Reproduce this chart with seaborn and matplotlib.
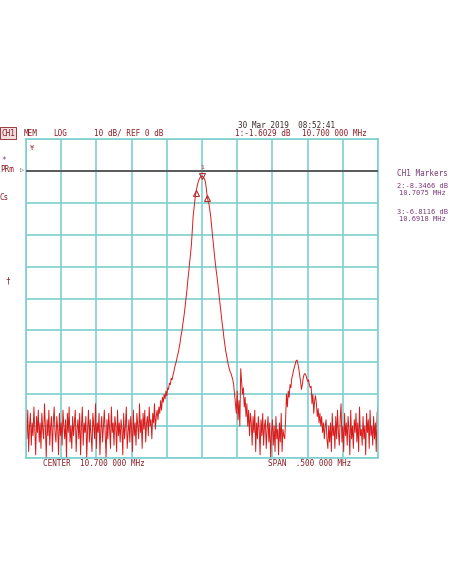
import numpy as np
import pandas as pd
import matplotlib
matplotlib.use("Agg")
import matplotlib.pyplot as plt
import seaborn as sns

# --- sweep settings --- #
center_mhz = 10.7
span_mhz = 0.5
n_points = 401

# --- trace, dB (split into pieces of the sweep) --- #
noise_left = [
    -78, -84, -75, -88, -80, -76, -86, -79, -83, -74,
    -81, -89, -77, -82, -75, -85, -79, -87, -76, -81,
    -84, -73, -80, -90, -78, -83, -75, -86, -80, -77,
    -88, -79, -74, -82, -85, -77, -81, -89, -76, -83,
    -79, -86, -75, -80, -84, -78, -90, -76, -82, -74,
    -85, -80, -87, -77, -83, -79, -75, -88, -81, -78,
    -84, -76, -89, -80, -74, -86, -79, -82, -77, -90,
    -81, -75, -85, -78, -83, -88, -76, -80, -84, -73,
    -87, -79, -82, -76, -89, -81, -77, -85, -80, -75,
    -83, -90, -78, -84, -76, -81, -87, -74, -82, -79,
    -86, -77, -80, -88, -75, -83, -79, -85, -78, -81,
    -89, -76, -84, -80, -74, -87, -82, -78, -85, -77,
    -81, -88, -75, -83, -79, -86, -76, -80, -84, -73,
    -82, -78, -87, -76, -81, -75, -85, -79, -77, -83,
    -74, -80, -78, -84, -76, -79, -73, -81, -77, -75,
    -78, -74, -76, -72, -75, -71,
]
main_lobe = [
    -72.5, -70, -71.5, -69, -70.5, -68, -68.5, -66.5, -67, -65,
    -65.5, -64, -63, -61.5, -60.5, -59.5, -58, -57, -55.5, -54,
    -52, -50.5, -48.5, -46.5, -44.5, -42, -39.5, -37, -34, -31.5,
    -28.5, -26, -23, -18.5, -14, -11.5, -9, -7, -5.5, -4.2,
    -3.2, -2.5, -2.0, -1.7, -1.6, -1.8, -2.1, -2.7, -3.6, -5.8,
    -8.3, -9.4, -10.5, -12.5, -14.5, -17.5, -20.5, -23, -26, -28.5,
    -31, -33, -35.5, -38, -40.5, -43, -45.5, -48, -50, -52.5,
    -54.5, -56.5, -58, -59.5, -61, -62, -63, -63.5, -64.5, -65.5,
    -67, -70,
]
noise_mid = [
    -73, -76, -69, -78, -72, -80, -62, -66, -70, -68,
    -74, -71, -77, -73, -80, -75, -83, -76, -79, -86,
    -77, -82, -75, -88, -79, -84, -77, -81, -89, -78,
    -83, -76, -86, -80, -78, -87, -81, -77, -85, -79,
    -90, -82, -78, -86, -80, -88, -77, -84, -81, -89,
    -79, -85, -76, -88, -81, -83,
]
spur = [
    -84, -78, -70, -74, -69, -71, -67, -68, -65, -64,
    -62.5, -61.5, -60.5, -59.5, -59.3, -60.5, -62, -64, -66, -68.5,
    -67, -65, -63.8, -63.5, -64, -65, -66, -65.5, -67, -68,
    -67.5, -73, -70, -76, -72, -70.5, -73, -77, -74.5, -79,
    -76, -80, -77, -82, -79, -84, -80, -78, -84, -87,
    -80, -85,
]
noise_right = [
    -79, -88, -76, -83, -80, -87, -77, -84, -75, -82,
    -86, -78, -73, -85, -80, -88, -76, -83, -79, -86,
    -77, -81, -89, -75, -84, -80, -87, -78, -82, -76,
    -85, -79, -88, -74, -83, -81, -86, -77, -84, -80,
    -89, -76, -82, -78, -87, -75, -83, -80, -86, -77,
    -84, -79, -88, -76, -74,
]

# markers 1..3
marker_names = ["1", "2", "3"]
marker_freq = [10.7, 10.7075, 10.6918]
marker_db = [-1.6029, -8.3466, -6.8116]

level_db = noise_left + main_lobe + noise_mid + spur + noise_right
freq = np.linspace(center_mhz - span_mhz / 2, center_mhz + span_mhz / 2, n_points)
df = pd.DataFrame({"freq": freq, "level": level_db})

sns.set_theme(style="white")
plt.rcParams['font.family'] = ['DejaVu Sans Mono', 'DejaVu Sans']

W, H = 452, 584
fig = plt.figure(figsize=(W / 100, H / 100), dpi=100)
ax = fig.add_axes([26 / W, 1 - 458 / H, (378 - 26) / W, (458 - 139) / H])

grid_col = "#7fd0d0"
lab_col = "#8a1c24"
mk_col = "#7a3a78"

sns.lineplot(data=df, x="freq", y="level", ax=ax, color="#d81c1c",
             linewidth=0.7, estimator=None, sort=False)

ax.set_xlim(freq[0], freq[-1])
ax.set_ylim(-90, 10)
ax.set_xticks(np.linspace(freq[0], freq[-1], 11))
ax.set_yticks(np.arange(-90, 11, 10))
ax.tick_params(length=0, labelbottom=False, labelleft=False)
ax.grid(True, color=grid_col, linewidth=1.2)
for s in ax.spines.values():
    s.set_color(grid_col)
    s.set_linewidth(1.2)
ax.set_xlabel("")
ax.set_ylabel("")

# reference line at REF 0 dB
ax.axhline(0, color="#5a5a5a", linewidth=1.4, zorder=3)

# markers
ax.plot(marker_freq[1:], marker_db[1:], linestyle="none", marker="^",
        markersize=4.5, markerfacecolor="none", markeredgecolor="#b03030",
        markeredgewidth=0.8)
ax.plot(marker_freq[:1], marker_db[:1], linestyle="none", marker="v",
        markersize=4, markerfacecolor="none", markeredgecolor="#b03030",
        markeredgewidth=0.8)
ax.annotate(marker_names[0], (marker_freq[0], marker_db[0]), xytext=(0, 5),
            textcoords="offset points", ha="center", fontsize=4.5, color="#b03030")


def ftext(x, y, s, **kw):
    kw.setdefault("fontsize", 5.5)
    kw.setdefault("color", lab_col)
    kw.setdefault("va", "center")
    fig.text(x / W, 1 - y / H, s, **kw)


# header
ftext(238, 125, "30 Mar 2019  08:52:41", color="#3a2a2a")
ftext(1, 133, "CH1", bbox=dict(boxstyle="square,pad=0.15", fc="#f2dede",
                                ec=lab_col, lw=0.6))
ftext(24, 133, "MEM")
ftext(53, 133, "LOG")
ftext(94, 133, "10 dB/ REF 0 dB")
ftext(235, 133, "1:-1.6029 dB")
ftext(302, 133, "10.700 000 MHz")

# left annunciators
ftext(1, 160, "*", color=mk_col)
ftext(0, 170, "PRm")
ftext(20, 171, "▷", color="#5a5a5a", fontsize=5)
ftext(0, 198, "Cs")
ftext(5, 281, "†")
ftext(30, 148, "¥", fontsize=5)

# marker table
ftext(397, 173, "CH1 Markers", color=mk_col)
ftext(397, 186, "2:-8.3466 dB", color=mk_col, fontsize=5)
ftext(399, 193, "10.7075 MHz", color=mk_col, fontsize=5)
ftext(397, 212, "3:-6.8116 dB", color=mk_col, fontsize=5)
ftext(399, 219, "10.6918 MHz", color=mk_col, fontsize=5)

# footer
ftext(43, 464, "CENTER  10.700 000 MHz")
ftext(268, 464, "SPAN  .500 000 MHz")

fig.savefig("out.png", dpi=100, facecolor="white")
